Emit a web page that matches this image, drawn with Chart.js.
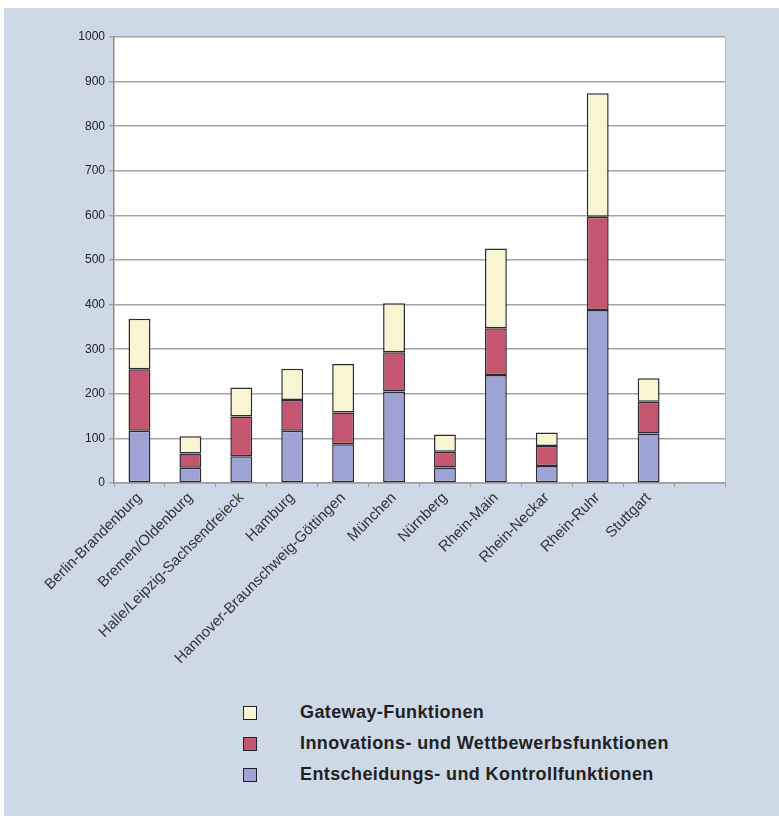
<!DOCTYPE html>
<html>
<head>
<meta charset="utf-8">
<script src="https://cdn.jsdelivr.net/npm/chart.js@4"></script>
<style>
  body { margin: 0; background: #fff; }
  #panel { position: absolute; left: 4px; top: 8px; width: 775px; height: 808px; background: #cdd9e6; }
  #wrap { position: absolute; left: 0; top: 0; width: 779px; height: 690px; }
  #legend { position: absolute; left: 0; top: 701px; font-family: "Liberation Sans", Arial, sans-serif; font-weight: bold; font-size: 18px; letter-spacing: 0.4px; color: #222; }
  .item { position: absolute; left: 0; height: 31px; white-space: nowrap; }
  .box { position: absolute; left: 243px; top: 5px; width: 12px; height: 12px; border: 1.5px solid #222; }
  .txt { position: absolute; left: 300px; top: 1px; }
</style>
</head>
<body>
<div id="panel"></div>
<div id="wrap"><canvas id="chart-regionen"></canvas></div>
<div id="legend"></div>
<script>
// Regionen und Funktionswerte (gestapelt)
const regionen = ['Berlin-Brandenburg', 'Bremen/Oldenburg', 'Halle/Leipzig-Sachsendreieck', 'Hamburg',
    'Hannover-Braunschweig-Göttingen', 'München', 'Nürnberg', 'Rhein-Main', 'Rhein-Neckar', 'Rhein-Ruhr', 'Stuttgart', ''];
const entscheidung = [117, 34, 60, 117, 87, 205, 35, 242, 38, 388, 111, null];
const innovation = [138, 32, 89, 69, 71, 88, 35, 105, 45, 209, 71, null];
const gateway = [113, 39, 65, 70, 109, 110, 39, 179, 30, 277, 53, null];
const yTicks = [0, 100, 200, 300, 400, 500, 600, 700, 800, 900, 1000];

const colores = { gateway: '#f9f5d3', innovation: '#c4566f', entscheidung: '#9ea3d6' };

const ctx = document.getElementById('chart-regionen').getContext('2d');

// Fondo blanco del área del gráfico
const fondoPlot = {
    id: 'fondoPlot',
    beforeDraw(chart) {
        const a = chart.chartArea;
        const c = chart.ctx;
        c.save();
        c.fillStyle = '#ffffff';
        c.fillRect(a.left, a.top, a.right - a.left, a.bottom - a.top);
        c.strokeStyle = '#b8bcc2';
        c.lineWidth = 1;
        c.beginPath();
        c.moveTo(a.right + 0.5, a.top);
        c.lineTo(a.right + 0.5, a.bottom);
        c.stroke();
        c.restore();
    }
};

const chart = new Chart(ctx, {
    type: 'bar',
    data: {
        labels: regionen,
        datasets: [
            { label: 'Entscheidungs- und Kontrollfunktionen', data: entscheidung, backgroundColor: colores.entscheidung },
            { label: 'Innovations- und Wettbewerbsfunktionen', data: innovation, backgroundColor: colores.innovation },
            { label: 'Gateway-Funktionen', data: gateway, backgroundColor: colores.gateway },
        ].map(ds => Object.assign(ds, {
            borderColor: '#2a2a33', borderWidth: 1.5, borderSkipped: false,
            barPercentage: 0.86, categoryPercentage: 0.5
        })),
    },
    options: {
        responsive: true,
        maintainAspectRatio: false,
        animation: false,
        layout: { padding: { top: 37, left: 54, right: 54, bottom: 7 } },
        scales: {
            x: {
                stacked: true,
                grid: { display: true, offset: true, drawOnChartArea: false, tickLength: 4, color: '#9a9a9a' },
                border: { color: '#9a9a9a', width: 1.5 },
                ticks: {
                    minRotation: 45, maxRotation: 45, autoSkip: false, padding: 2,
                    color: '#333', font: { family: '"Liberation Sans", Arial', size: 15 }
                },
                afterFit(scale) { scale.height = 200; }
            },
            y: {
                stacked: true,
                min: 0, max: 1000,
                afterBuildTicks(scale) { scale.ticks = yTicks.map(v => ({ value: v })); },
                grid: { color: '#a4a4a4', lineWidth: 1.5, tickLength: 5 },
                border: { color: '#8a8a8a', width: 1.5 },
                ticks: {
                    padding: 4, color: '#222', font: { family: '"Liberation Sans", Arial', size: 12 },
                    callback: v => String(v)
                },
                afterFit(scale) { scale.width = 60; }
            }
        },
        plugins: {
            legend: { display: false },
            tooltip: { enabled: false },
        },
    },
    plugins: [fondoPlot]
});

// Leyenda en HTML (orden inverso al apilado)
const leyenda = document.getElementById('legend');
chart.data.datasets.slice().reverse().forEach((ds, i) => {
    const item = document.createElement('div');
    item.className = 'item';
    item.style.top = (i * 31) + 'px';
    item.innerHTML = '<span class="box" style="background:' + ds.backgroundColor + '"></span><span class="txt">' + ds.label + '</span>';
    leyenda.appendChild(item);
});
</script>
</body>
</html>
